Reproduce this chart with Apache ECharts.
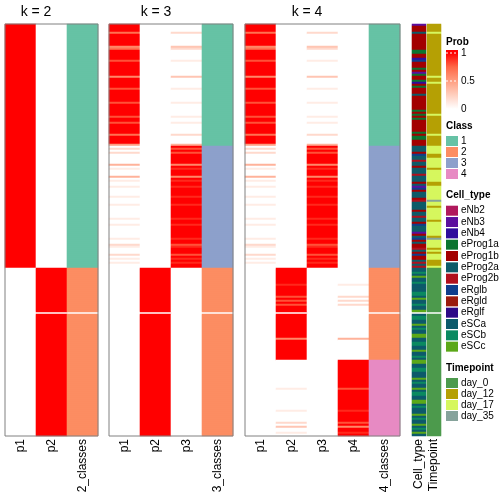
<!DOCTYPE html>
<html><head><meta charset="utf-8">
<script src="https://cdn.jsdelivr.net/npm/echarts@6/dist/echarts.min.js"></script>
<style>html,body{margin:0;padding:0;background:#fff}#c{width:504px;height:504px}</style>
</head><body><div id="c"></div>
<script>
// ---- DATA: one character per row (row order top -> bottom) ----
// probability codes: 'X' = 1, '0'..'9' = tenths, '-' = row-slice gap
const k2p1 = ["XXXXXXXXXX","XXXXXXXXXX","XXXXXXXXXX","XXXXXXXXXX","XXXXXXXXXX","XXXXXXXXXX",
"XXXXXXXXXX","XXXXXXXXXX","XXXXXXXXXX","XXXXXXXXXX","XXXXXXXXXX","XXXXXXXXXX",
"XX00000000","0000000000","0000-00000","0000000000","0000000000","0000000000",
"0000000000","0000000000","000000"].join('');
const k2p2 = ["0000000000","0000000000","0000000000","0000000000","0000000000","0000000000",
"0000000000","0000000000","0000000000","0000000000","0000000000","0000000000",
"00XXXXXXXX","XXXXXXXXXX","XXXX-XXXXX","XXXXXXXXXX","XXXXXXXXXX","XXXXXXXXXX",
"XXXXXXXXXX","XXXXXXXXXX","XXXXXX"].join('');
const k2cls = ["1111111111","1111111111","1111111111","1111111111","1111111111","1111111111",
"1111111111","1111111111","1111111111","1111111111","1111111111","1111111111",
"1122222222","2222222222","2222-22222","2222222222","2222222222","2222222222",
"2222222222","2222222222","222222"].join('');

const k3p1 = ["XXXX7XXXXX","X67XXXXX8X","XXXXXX6XXX","XX8XXXXXX8","XXXXXX8XX8","XXXXX7XXXX",
"5020200000","4010004010","0100001000","1000000100","1000000100","2100020101",
"0000000000","0000000000","0000-00000","0000000000","0000000000","0000000000",
"0000000000","0000000000","000000"].join('');
const k3p2 = ["0000000000","0000000000","0000000000","0000000000","0000000000","0000000000",
"0000000000","0000000000","0000000000","0000000000","0000000000","0000000000",
"00XXXXXXXX","XXXXXXXXXX","XXXX-XXXXX","XXXXXXXXXX","XXXXXXXXXX","XXXXXXXXXX",
"XXXXXXXXXX","XXXXXXXXXX","XXXXXX"].join('');
const k3p3 = ["0000200000","0320000010","0000003000","0010000001","0000001001","0000020000",
"4X8X8XXXXX","6X9XXX6X9X","X9XXXX9XXX","9XXXXXX9XX","9XXXXXX9XX","89XXX8X9X9",
"XX00000000","0000000000","0000-00000","0000000000","0000000000","0000000000",
"0000000000","0000000000","000000"].join('');
const k3cls = ["1111111111","1111111111","1111111111","1111111111","1111111111","1111111111",
"1333333333","3333333333","3333333333","3333333333","3333333333","3333333333",
"3322222222","2222222222","2222-22222","2222222222","2222222222","2222222222",
"2222222222","2222222222","222222"].join('');

const k4p1 = ["XXXX7XXXXX","X67XXXXX8X","XXXXXX6XXX","XX8XXXXXX8","XXXXXX8XX8","XXXXX7XXXX",
"5020200000","4010004010","0100001000","1000000100","1000000100","2100020101",
"0000000000","0000000000","0000-00000","0000000000","0000000000","0000000000",
"0000000000","0000000000","000000"].join('');
const k4p2 = ["0000000000","0000000000","0000000000","0000000000","0000000000","0000000000",
"0000000000","0000000000","0000000000","0000000000","0000000000","0000000000",
"00XXXXXXXX","9XXXXX8X8X","8XXX-XXXXX","XXXXXXX6XX","XXXXXXXX00","0000000000",
"0010000000","0001000002","030010"].join('');
const k4p3 = ["0000200000","0320000010","0000003000","0010000001","0000001001","0000020000",
"4X8X8XXXXX","6X9XXX6X9X","X9XXXX9XXX","9XXXXXX9XX","9XXXXXX9XX","89XXX8X9X9",
"XX00000000","0000000000","0000-00000","0000000000","0000000000","0000000000",
"0000000000","0000000000","000000"].join('');
const k4p4 = ["0000000000","0000000000","0000000000","0000000000","0000000000","0000000000",
"0000000000","0000000000","0000000000","0000000000","0000000000","0000000000",
"0000000000","1000002020","2000-00000","0000000400","00000000XX","XXXXXXXXXX",
"XX8XXXXXXX","XXX9XXXXX8","X6XX9X"].join('');
const k4cls = ["1111111111","1111111111","1111111111","1111111111","1111111111","1111111111",
"1333333333","3333333333","3333333333","3333333333","3333333333","3333333333",
"3322222222","2222222222","2222-22222","2222222222","2222222244","4444444444",
"4444444444","4444444444","444444"].join('');

// Cell type codes A..M -> cellTypeNames index
const cellType = ["BEEEFEEEEE","EEEDDEECHE","EEDEBDEEDC","EDEEEFEEEE","EEEDEDEDEE","EEEEDEDDEE",
"EFFFEHFFGF","FEFFFGFFFE","FBHEFFFEGF","FFFEFFGFFE","HFFFBEFHEF","EEGFEHEEFG",
"FGKKLKMKKL","KKFKLLKMKK","LKKM-KLLKK","MKLKKMMKKL","LKKMKKLKMM","KKLLKKKMKL",
"KKMKLLKKMM","KLKKKMKLKK","MKLKMK"].join('');
// Timepoint codes: 0=day_0, a=day_12, b=day_17, c=day_35
const timepoint = ["aaaabaaaaa","aaaaaaaaaa","aaaaaabaab","aaaaaaaaaa","aaaaabaaaa","aaaaabaaaa",
"abbbbaabbb","bbabbbbbba","abbbbbbbcb","babbbbbbab","bbbbbbacbb","bbababbbaa",
"ab00000000","0000000000","0000-00000","0000000000","0000000000","0000000000",
"0000000000","0000000000","000000"].join('');

const classNames = ['1','2','3','4'];
const classColors = ['#66C2A5','#FC8D62','#8DA0CB','#E78AC3'];
const cellTypeNames = ['eNb2','eNb3','eNb4','eProg1a','eProg1b','eProg2a','eProg2b','eRglb','eRgld','eRglf','eSCa','eSCb','eSCc'];
const cellTypeColors = ['#B0195C','#5B0F9E','#2E0C9C','#0B7430','#A30000','#0E5B68','#B0101C','#0E3E8C','#9A1C0E','#2D0A86','#0C5A6B','#0B8A60','#5BA818'];
const timeNames = ['day_0','day_12','day_17','day_35'];
const timeColors = ['#4C9A4C','#B5A004','#D6F75E','#86A39B'];
const timeCodes = ['0','a','b','c'];
const probStops = ['#FFFFFF','#FFCFBF','#FF9E81','#FF6746','#FF0000'];
const probTicks = ['0','0.5','1'];

// ---- CHART ----
const FONT = "'Liberation Sans', Arial, Helvetica, sans-serif";
const TOP = 24, H = 412, COLW = 31;
const panels = [
  {left:5,   title:'k = 2', cols:['p1','p2','2_classes'], probs:[k2p1,k2p2], cls:k2cls},
  {left:109, title:'k = 3', cols:['p1','p2','p3','3_classes'], probs:[k3p1,k3p2,k3p3], cls:k3cls},
  {left:245, title:'k = 4', cols:['p1','p2','p3','p4','4_classes'], probs:[k4p1,k4p2,k4p3,k4p4], cls:k4cls}
];
const nRows = k2p1.length;
const rowCats = []; for (let i = 0; i < nRows; i++) rowCats.push(String(i));
const grids = [], xAxes = [], yAxes = [], series = [], probIdx = [], clsIdx = [];
function axisX(gi, names) {
  return {type:'category', gridIndex:gi, data:names, position:'bottom',
    axisLine:{show:false}, axisTick:{show:false}, splitLine:{show:false},
    axisLabel:{interval:0, rotate:90, margin:3, fontSize:12, color:'#000', fontFamily:FONT}};
}
function axisY(gi) { return {type:'category', gridIndex:gi, data:rowCats, inverse:true, show:false}; }
function hm(gi, data) {
  return {type:'heatmap', xAxisIndex:gi, yAxisIndex:gi, data:data, progressive:0,
    emphasis:{disabled:true}, itemStyle:{borderWidth:0}};
}
panels.forEach((p, gi) => {
  grids.push({left:p.left, top:TOP, width:p.cols.length*COLW, height:H, show:true,
    borderColor:'#808080', borderWidth:1, backgroundColor:'transparent', z:10});
  xAxes.push(axisX(gi, p.cols)); yAxes.push(axisY(gi));
  const pd = [];
  p.probs.forEach((s, c) => {
    for (let r = 0; r < s.length; r++) {
      const ch = s[r]; if (ch === '-') continue;
      pd.push([c, r, ch === 'X' ? 1 : Number(ch) / 10]);
    }
  });
  probIdx.push(series.length); series.push(hm(gi, pd));
  const cd = [], k = p.probs.length;
  for (let r = 0; r < p.cls.length; r++) {
    const ch = p.cls[r]; if (ch === '-') continue;
    cd.push([k, r, Number(ch)]);
  }
  clsIdx.push(series.length); series.push(hm(gi, cd));
});
// annotation columns
const annGrids = [{left:412, name:'Cell_type'}, {left:427, name:'Timepoint'}];
annGrids.forEach((a, i) => {
  const gi = 3 + i;
  grids.push({left:a.left, top:TOP, width:14, height:H, show:false});
  xAxes.push(axisX(gi, [a.name])); yAxes.push(axisY(gi));
});
const ctData = [];
for (let r = 0; r < cellType.length; r++) { const ch = cellType[r]; if (ch === '-') continue; ctData.push([0, r, ch.charCodeAt(0) - 65]); }
const tpData = [];
for (let r = 0; r < timepoint.length; r++) { const ch = timepoint[r]; if (ch === '-') continue; tpData.push([0, r, timeCodes.indexOf(ch)]); }
const ctIdx = series.length; series.push(hm(3, ctData));
const tpIdx = series.length; series.push(hm(4, tpData));

// ---- legends / titles (graphic) ----
const els = [];
function txt(x, y, text, extra) {
  els.push({type:'text', x:x, y:y, silent:true,
    style:Object.assign({text:text, fill:'#000', fontSize:10, fontFamily:FONT,
      align:'left', verticalAlign:'middle', textAlign:'left', textVerticalAlign:'middle'}, extra || {})});
}
function box(x, y, w, h, color) {
  els.push({type:'rect', silent:true, shape:{x:x, y:y, width:w, height:h}, style:{fill:color}});
}
const titleX = [36, 156, 307];
panels.forEach((p, i) => txt(titleX[i], 12, p.title, {fontSize:14, align:'center', textAlign:'center'}));
const LX = 446;
txt(LX, 42, 'Prob', {fontWeight:'bold'});
els.push({type:'rect', silent:true, shape:{x:LX, y:50, width:12, height:60},
  style:{fill:new echarts.graphic.LinearGradient(0, 0, 0, 1, [
    {offset:0, color:probStops[4]}, {offset:0.05, color:probStops[4]},
    {offset:0.283, color:probStops[3]}, {offset:0.517, color:probStops[2]},
    {offset:0.75, color:probStops[1]}, {offset:0.983, color:probStops[0]}, {offset:1, color:probStops[0]}])}});
[109, 81, 53].forEach((y, i) => {
  els.push({type:'line', silent:true, shape:{x1:LX, y1:y, x2:LX+12, y2:y}, style:{stroke:'#fff', lineWidth:1, lineDash:[2,2]}});
  txt(LX + 15, y, probTicks[i]);
});
txt(LX, 126, 'Class', {fontWeight:'bold'});
classNames.forEach((n, i) => { box(LX, 136 + i*11, 12, 10, classColors[i]); txt(LX + 15, 141.5 + i*11, n); });
txt(LX, 195, 'Cell_type', {fontWeight:'bold'});
cellTypeNames.forEach((n, i) => { const y = 210.7 + i*11.33; box(LX, y - 5, 12, 10, cellTypeColors[i]); txt(LX + 15, y, n); });
txt(LX, 368, 'Timepoint', {fontWeight:'bold'});
timeNames.forEach((n, i) => { const y = 383 + i*11; box(LX, y - 5, 12, 10, timeColors[i]); txt(LX + 15, y, n); });

const chart = echarts.init(document.getElementById('c'), null, {renderer:'canvas'});
chart.setOption({
  animation:false,
  textStyle:{fontFamily:FONT},
  grid:grids, xAxis:xAxes, yAxis:yAxes,
  visualMap:[
    {type:'continuous', show:false, min:0, max:1, dimension:2, seriesIndex:probIdx, inRange:{color:probStops}},
    {type:'piecewise', show:false, dimension:2, seriesIndex:clsIdx,
      pieces:classColors.map((c, i) => ({value:i + 1, color:c}))},
    {type:'piecewise', show:false, dimension:2, seriesIndex:[ctIdx],
      pieces:cellTypeColors.map((c, i) => ({value:i, color:c}))},
    {type:'piecewise', show:false, dimension:2, seriesIndex:[tpIdx],
      pieces:timeColors.map((c, i) => ({value:i, color:c}))}
  ],
  series:series,
  graphic:{elements:els}
});
</script></body></html>
